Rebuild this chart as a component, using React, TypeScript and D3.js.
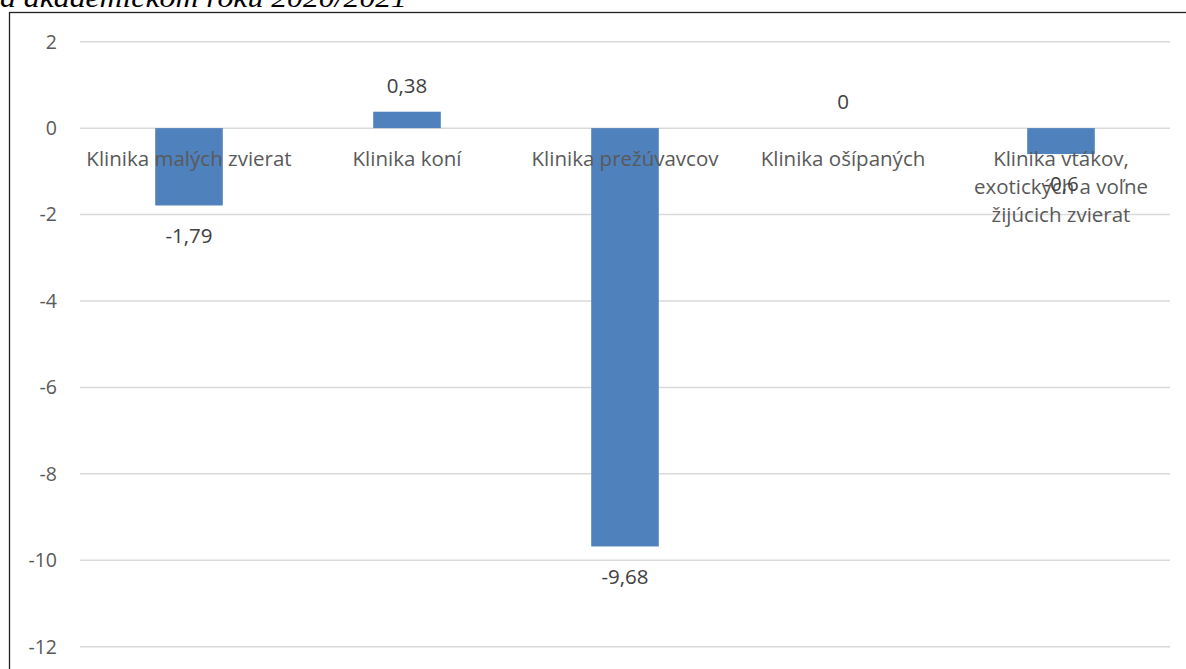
import React from "react";
import * as d3 from "d3";

const categories: string[][] = [
  ["Klinika malých zvierat"],
  ["Klinika koní"],
  ["Klinika prežúvavcov"],
  ["Klinika ošípaných"],
  ["Klinika vtákov,", "exotických a voľne", "žijúcich zvierat"],
];
const values: number[] = [-1.79, 0.38, -9.68, 0, -0.6];
const valueLabels: string[] = ["-1,79", "0,38", "-9,68", "0", "-0,6"];
const yTicks: number[] = [2, 0, -2, -4, -6, -8, -10, -12];
const titleText = "a akademickom roku 2020/2021";

const W = 1186;
const H = 669;
const FONT = "'Open Sans', 'Liberation Sans', sans-serif";
const TXT = "#595959";

export default function App() {
  const x = d3
    .scaleBand<number>()
    .domain(values.map((_, i) => i))
    .range([80, 1170])
    .paddingInner(0.69)
    .paddingOuter(0.345);
  const y = d3.scaleLinear().domain([-12, 2]).range([646.7, 41.7]);
  const y0 = y(0);

  return (
    <svg
      width={W}
      height={H}
      style={{ position: "absolute", left: 0, top: 0, background: "#fff" }}
    >
      <text
        x={0}
        y={7}
        fontFamily="'Liberation Serif', 'DejaVu Serif', serif"
        fontStyle="italic"
        fontSize={28}
        fill="#000"
        textLength={407}
        lengthAdjust="spacingAndGlyphs"
      >
        {titleText}
      </text>
      <rect x={9.5} y={12.5} width={1200} height={700} fill="none" stroke="#222" strokeWidth={1.3} />
      {yTicks.map((t) => (
        <g key={t}>
          <line x1={80} x2={1170} y1={y(t)} y2={y(t)} stroke="#d9d9d9" strokeWidth={1.5} />
          <text
            x={57}
            y={y(t)}
            dy="0.35em"
            textAnchor="end"
            fontFamily={FONT}
            fontSize={19.5}
            fill={TXT}
          >
            {t}
          </text>
        </g>
      ))}
      {values.map((v, i) => {
        const bx = x(i)!;
        const top = Math.min(y(v), y0);
        const h = Math.abs(y(v) - y0);
        return (
          <rect key={i} x={bx} y={top} width={x.bandwidth()} height={h} fill="#4f81bd" />
        );
      })}
      {categories.map((lines, i) => {
        const cx = x(i)! + x.bandwidth() / 2;
        return (
          <text
            key={i}
            x={cx}
            textAnchor="middle"
            fontFamily={FONT}
            fontSize={20.5}
            fill={TXT}
          >
            {lines.map((l, j) => (
              <tspan key={j} x={cx} y={y0 + 38 + j * 28}>
                {l}
              </tspan>
            ))}
          </text>
        );
      })}
      {values.map((v, i) => {
        const cx = x(i)! + x.bandwidth() / 2;
        const ly = v >= 0 ? y(v) - 26 : y(v) + 30;
        return (
          <text
            key={i}
            x={cx}
            y={ly}
            dy="0.35em"
            textAnchor="middle"
            fontFamily={FONT}
            fontSize={20.5}
            fill="#404040"
          >
            {valueLabels[i]}
          </text>
        );
      })}
    </svg>
  );
}
